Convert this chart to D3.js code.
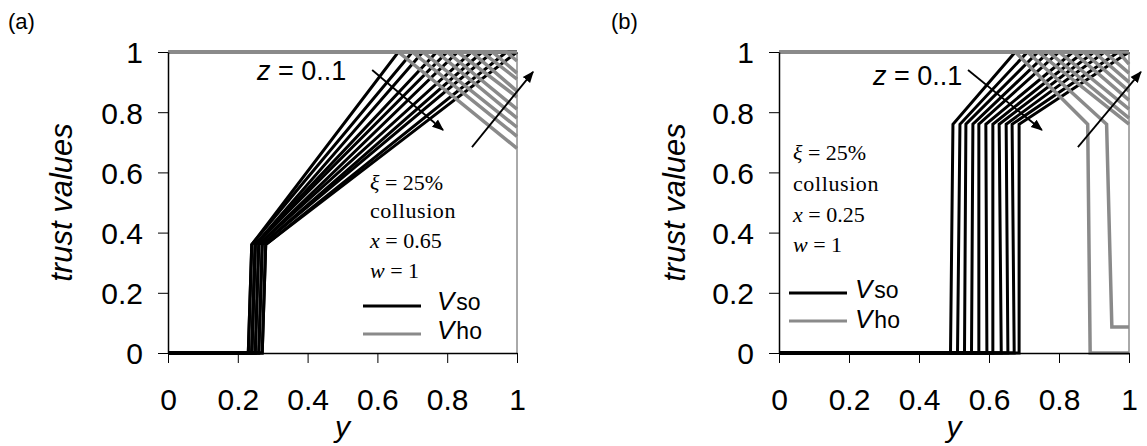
<!DOCTYPE html>
<html><head><meta charset="utf-8">
<script src="https://cdn.jsdelivr.net/npm/d3@7"></script>
<style>
body{margin:0;background:#fff}
svg{display:block}
.tick text{font-family:"Liberation Sans",Arial,sans-serif}
</style></head>
<body>
<svg id="chart" width="1147" height="446"></svg>
<script>
// ---- data ----
const xTicks = [0, 0.2, 0.4, 0.6, 0.8, 1];
const yTicks = [0, 0.2, 0.4, 0.6, 0.8, 1];
const zLevels = [0, 0.1, 0.2, 0.3, 0.4, 0.5, 0.6, 0.7, 0.8, 0.9, 1];

// panel (a): x = 0.65
const aVso = [
  [[0,0],[0.23,0],[0.24,0.36],[0.66,1],[1,1]],
  [[0,0],[0.23,0],[0.24,0.36],[0.70,1],[1,1]],
  [[0,0],[0.24,0],[0.25,0.36],[0.73,1],[1,1]],
  [[0,0],[0.24,0],[0.25,0.36],[0.77,1],[1,1]],
  [[0,0],[0.24,0],[0.25,0.36],[0.80,1],[1,1]],
  [[0,0],[0.25,0],[0.26,0.36],[0.83,1],[1,1]],
  [[0,0],[0.25,0],[0.26,0.36],[0.87,1],[1,1]],
  [[0,0],[0.26,0],[0.27,0.36],[0.90,1],[1,1]],
  [[0,0],[0.26,0],[0.27,0.36],[0.93,1],[1,1]],
  [[0,0],[0.27,0],[0.28,0.36],[0.97,1],[1,1]],
  [[0,0],[0.27,0],[0.28,0.36],[1.00,1]]
];
const aVho = [
  [[0,1],[0.66,1],[1,0.68]],
  [[0,1],[0.70,1],[1,0.72]],
  [[0,1],[0.73,1],[1,0.75]],
  [[0,1],[0.77,1],[1,0.78]],
  [[0,1],[0.80,1],[1,0.81]],
  [[0,1],[0.83,1],[1,0.85]],
  [[0,1],[0.87,1],[1,0.87]],
  [[0,1],[0.90,1],[1,0.91]],
  [[0,1],[0.93,1],[1,0.93]],
  [[0,1],[0.97,1],[1,0.97]],
  [[0,1],[1,1]]
];

// panel (b): x = 0.25
const bVso = [
  [[0,0],[0.49,0],[0.497,0.76],[0.675,1],[1,1]],
  [[0,0],[0.51,0],[0.517,0.76],[0.71,1],[1,1]],
  [[0,0],[0.53,0],[0.534,0.76],[0.74,1],[1,1]],
  [[0,0],[0.55,0],[0.554,0.76],[0.77,1],[1,1]],
  [[0,0],[0.571,0],[0.571,0.76],[0.80,1],[1,1]],
  [[0,0],[0.594,0],[0.591,0.76],[0.84,1],[1,1]],
  [[0,0],[0.611,0],[0.611,0.76],[0.87,1],[1,1]],
  [[0,0],[0.635,0],[0.629,0.76],[0.90,1],[1,1]],
  [[0,0],[0.654,0],[0.649,0.76],[0.93,1],[1,1]],
  [[0,0],[0.672,0],[0.666,0.76],[0.97,1],[1,1]],
  [[0,0],[0.686,0],[0.686,0.76],[1.00,1]]
];
const bVho = [
  [[0,1],[0.675,1],[0.882,0.76],[0.889,0],[1,0]],
  [[0,1],[0.71,1],[0.936,0.76],[0.951,0.086],[1,0.086]],
  [[0,1],[0.74,1],[1,0.76]],
  [[0,1],[0.77,1],[1,0.78]],
  [[0,1],[0.80,1],[1,0.81]],
  [[0,1],[0.84,1],[1,0.84]],
  [[0,1],[0.87,1],[1,0.87]],
  [[0,1],[0.90,1],[1,0.90]],
  [[0,1],[0.93,1],[1,0.93]],
  [[0,1],[0.97,1],[1,0.96]],
  [[0,1],[1,1]]
];

const panels = [
  {tag:"(a)", tagX:8, left:168, right:517, so:aVso, ho:aVho, xval:"0.65",
   zText:[257,80], arrows:[[[0.585,0.94],[0.788,0.741]],[[0.871,0.684],[1.046,0.934]]],
   notes:[370,[190,218,248,278]], legend:{x1:363,x2:421,tx:437,y1:306,b1:310,y2:334,b2:339},
   titleX:72},
  {tag:"(b)", tagX:611, left:779, right:1129, so:bVso, ho:bVho, xval:"0.25",
   zText:[873,85], arrows:[[[0.54,0.94],[0.751,0.741]],[[0.854,0.684],[1.034,0.934]]],
   notes:[793,[160,191,222,252]], legend:{x1:789,x2:847,tx:855,y1:293,b1:298,y2:321,b2:328},
   titleX:685}
];

const BLACK = "#000", GRAY = "#8a8a8a";
const SANS = '"Liberation Sans", Arial, sans-serif';
const SERIF = '"Liberation Serif", "Times New Roman", serif';
const svg = d3.select("#chart");

svg.append("defs").append("marker")
  .attr("id","arrow").attr("viewBox","0 0 10 10").attr("refX",9).attr("refY",5)
  .attr("markerWidth",6.5).attr("markerHeight",6.5).attr("orient","auto")
  .append("path").attr("d","M0,1 L10,5 L0,9 Z").attr("fill","#000");

const plotTop = 52, plotBottom = 353;

panels.forEach(p => {
  const x = d3.scaleLinear().domain([0,1]).range([p.left, p.right]);
  const y = d3.scaleLinear().domain([0,1]).range([plotBottom, plotTop]);
  const g = svg.append("g");

  // right border
  g.append("line").attr("x1",x(1)).attr("x2",x(1)).attr("y1",y(0)).attr("y2",y(1))
    .attr("stroke","#555").attr("stroke-width",1);

  const line = d3.line().x(d=>x(d[0])).y(d=>y(d[1]));
  g.selectAll("path.so").data(p.so).join("path").attr("class","so")
    .attr("d",line).attr("fill","none").attr("stroke",BLACK).attr("stroke-width",3)
    .attr("stroke-linejoin","miter");
  g.selectAll("path.ho").data(p.ho).join("path").attr("class","ho")
    .attr("d",line).attr("fill","none").attr("stroke",GRAY).attr("stroke-width",3.5)
    .attr("stroke-linejoin","miter");

  // axes
  const xa = g.append("g").attr("transform",`translate(0,${plotBottom})`)
    .call(d3.axisBottom(x).tickValues(xTicks).tickFormat(d3.format("")).tickSize(10).tickSizeOuter(0).tickPadding(26));
  const ya = g.append("g").attr("transform",`translate(${p.left},0)`)
    .call(d3.axisLeft(y).tickValues(yTicks).tickFormat(d3.format("")).tickSize(10).tickSizeOuter(0).tickPadding(15));
  [xa, ya].forEach(a => {
    a.select(".domain").attr("stroke","#000").attr("stroke-width",1.5);
    a.selectAll(".tick line").attr("stroke","#000").attr("stroke-width",1);
    a.selectAll(".tick text").attr("font-size",30).attr("fill","#000");
  });
  ya.selectAll(".tick text").attr("dy","0.36em");

  // axis titles
  svg.append("text").attr("x",(p.left+p.right)/2).attr("y",437).attr("text-anchor","middle")
    .attr("font-family",SANS).attr("font-style","italic").attr("font-size",30).text("y");
  svg.append("text").attr("transform",`translate(${p.titleX},${(plotTop+plotBottom)/2}) rotate(-90)`)
    .attr("text-anchor","middle").attr("font-family",SANS).attr("font-style","italic")
    .attr("font-size",31).text("trust values");

  // panel tag
  svg.append("text").attr("x",p.tagX).attr("y",29).attr("font-family",SANS)
    .attr("font-size",22).text(p.tag);

  // z annotation
  const zt = svg.append("text").attr("x",p.zText[0]).attr("y",p.zText[1])
    .attr("font-family",SANS).attr("font-size",27);
  zt.append("tspan").attr("font-style","italic").text("z");
  zt.append("tspan").text(" = " + zLevels[0] + ".." + zLevels[zLevels.length-1]);

  p.arrows.forEach(a => {
    svg.append("line").attr("x1",x(a[0][0])).attr("y1",y(a[0][1]))
      .attr("x2",x(a[1][0])).attr("y2",y(a[1][1]))
      .attr("stroke","#000").attr("stroke-width",1.8).attr("marker-end","url(#arrow)");
  });

  // parameter notes
  const nx = p.notes[0], nb = p.notes[1];
  const n1 = svg.append("text").attr("x",nx).attr("y",nb[0]).attr("font-family",SERIF).attr("font-size",22);
  n1.append("tspan").attr("font-style","italic").text("ξ");
  n1.append("tspan").text(" = 25%");
  svg.append("text").attr("x",nx).attr("y",nb[1]).attr("font-family",SERIF).attr("font-size",22)
    .attr("letter-spacing",0.6).text("collusion");
  const n3 = svg.append("text").attr("x",nx).attr("y",nb[2]).attr("font-family",SERIF).attr("font-size",22);
  n3.append("tspan").attr("font-style","italic").text("x");
  n3.append("tspan").text(" = " + p.xval);
  const n4 = svg.append("text").attr("x",nx).attr("y",nb[3]).attr("font-family",SERIF).attr("font-size",22);
  n4.append("tspan").attr("font-style","italic").text("w");
  n4.append("tspan").text(" = 1");

  // legend
  const L = p.legend;
  svg.append("line").attr("x1",L.x1).attr("x2",L.x2).attr("y1",L.y1).attr("y2",L.y1)
    .attr("stroke",BLACK).attr("stroke-width",3);
  svg.append("line").attr("x1",L.x1).attr("x2",L.x2).attr("y1",L.y2).attr("y2",L.y2)
    .attr("stroke",GRAY).attr("stroke-width",3);
  const l1 = svg.append("text").attr("x",L.tx).attr("y",L.b1).attr("font-family",SANS);
  l1.append("tspan").attr("font-style","italic").attr("font-size",26).text("V");
  l1.append("tspan").attr("font-size",23).attr("dx",2).text("so");
  const l2 = svg.append("text").attr("x",L.tx).attr("y",L.b2).attr("font-family",SANS);
  l2.append("tspan").attr("font-style","italic").attr("font-size",26).text("V");
  l2.append("tspan").attr("font-size",23).attr("dx",2).text("ho");
});
</script>
</body></html>
